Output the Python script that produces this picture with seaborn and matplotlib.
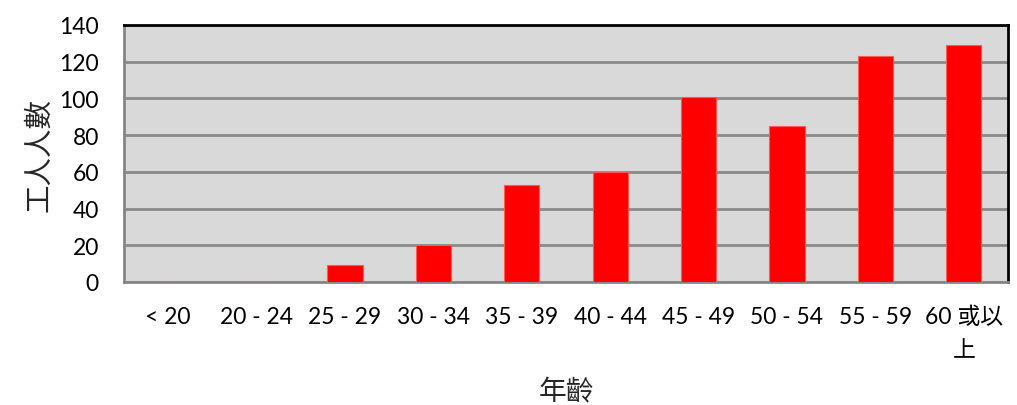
import matplotlib
matplotlib.use("Agg")
import matplotlib.pyplot as plt
import seaborn as sns
import pandas as pd
import numpy as np

categories = ["< 20", "20 - 24", "25 - 29", "30 - 34", "35 - 39", "40 - 44",
              "45 - 49", "50 - 54", "55 - 59", "60 或以\n上"]
workers = [0, 0, 9, 20, 53, 60, 101, 85, 123, 129]
y_ticks = [0, 20, 40, 60, 80, 100, 120, 140]
x_title = "年齡"
y_title = "工人人數"

sns.set_theme(style="white")
plt.rcParams['font.family'] = ['Lato', 'Noto Sans CJK TC', 'DejaVu Sans']

df = pd.DataFrame({"age": categories, "n": workers})

fig = plt.figure(figsize=(10.17, 4.06), dpi=100)
ax = fig.add_axes([124/1017, 1-283/406, (1008-124)/1017, (283-26)/406])
ax.set_facecolor("#d9d9d9")
ax.set_axisbelow(True)

sns.barplot(data=df, x="age", y="n", color="#ff0000", saturation=1, width=0.4,
            edgecolor="#ff5a5a", linewidth=0.8, ax=ax, zorder=3)

ax.set_ylim(0, 140)
ax.set_xlim(-0.5, len(categories) - 0.5)
ax.set_yticks(y_ticks)
ax.yaxis.grid(True, color="#8a8a8a", linewidth=2)
ax.xaxis.grid(False)

ax.set_xticks(range(len(categories)))
ax.set_xticklabels(categories)
ax.set_xticks(np.arange(-0.5, len(categories), 1.0), minor=True)
ax.tick_params(axis="x", which="major", length=0, pad=17, labelsize=16.5, colors="#000000")
ax.tick_params(axis="x", which="minor", length=8, width=1.5, color="#868686", direction="out")
ax.tick_params(axis="y", length=8, width=1.5, color="#868686", direction="out",
               pad=10, labelsize=16.5, labelcolor="#000000")
ax.get_xticklabels()[-1].set_linespacing(1.7)

for side in ["left", "bottom"]:
    ax.spines[side].set_color("#868686")
    ax.spines[side].set_linewidth(2)
for side in ["top", "right"]:
    ax.spines[side].set_color("#000000")
    ax.spines[side].set_linewidth(2)

ax.set_xlabel(x_title, fontsize=20, labelpad=12, family=['Noto Sans CJK TC', 'DejaVu Sans'])
ax.set_ylabel(y_title, fontsize=20.5, labelpad=4, family=['Noto Sans CJK TC', 'DejaVu Sans'])

fig.savefig("out.png", dpi=100)
